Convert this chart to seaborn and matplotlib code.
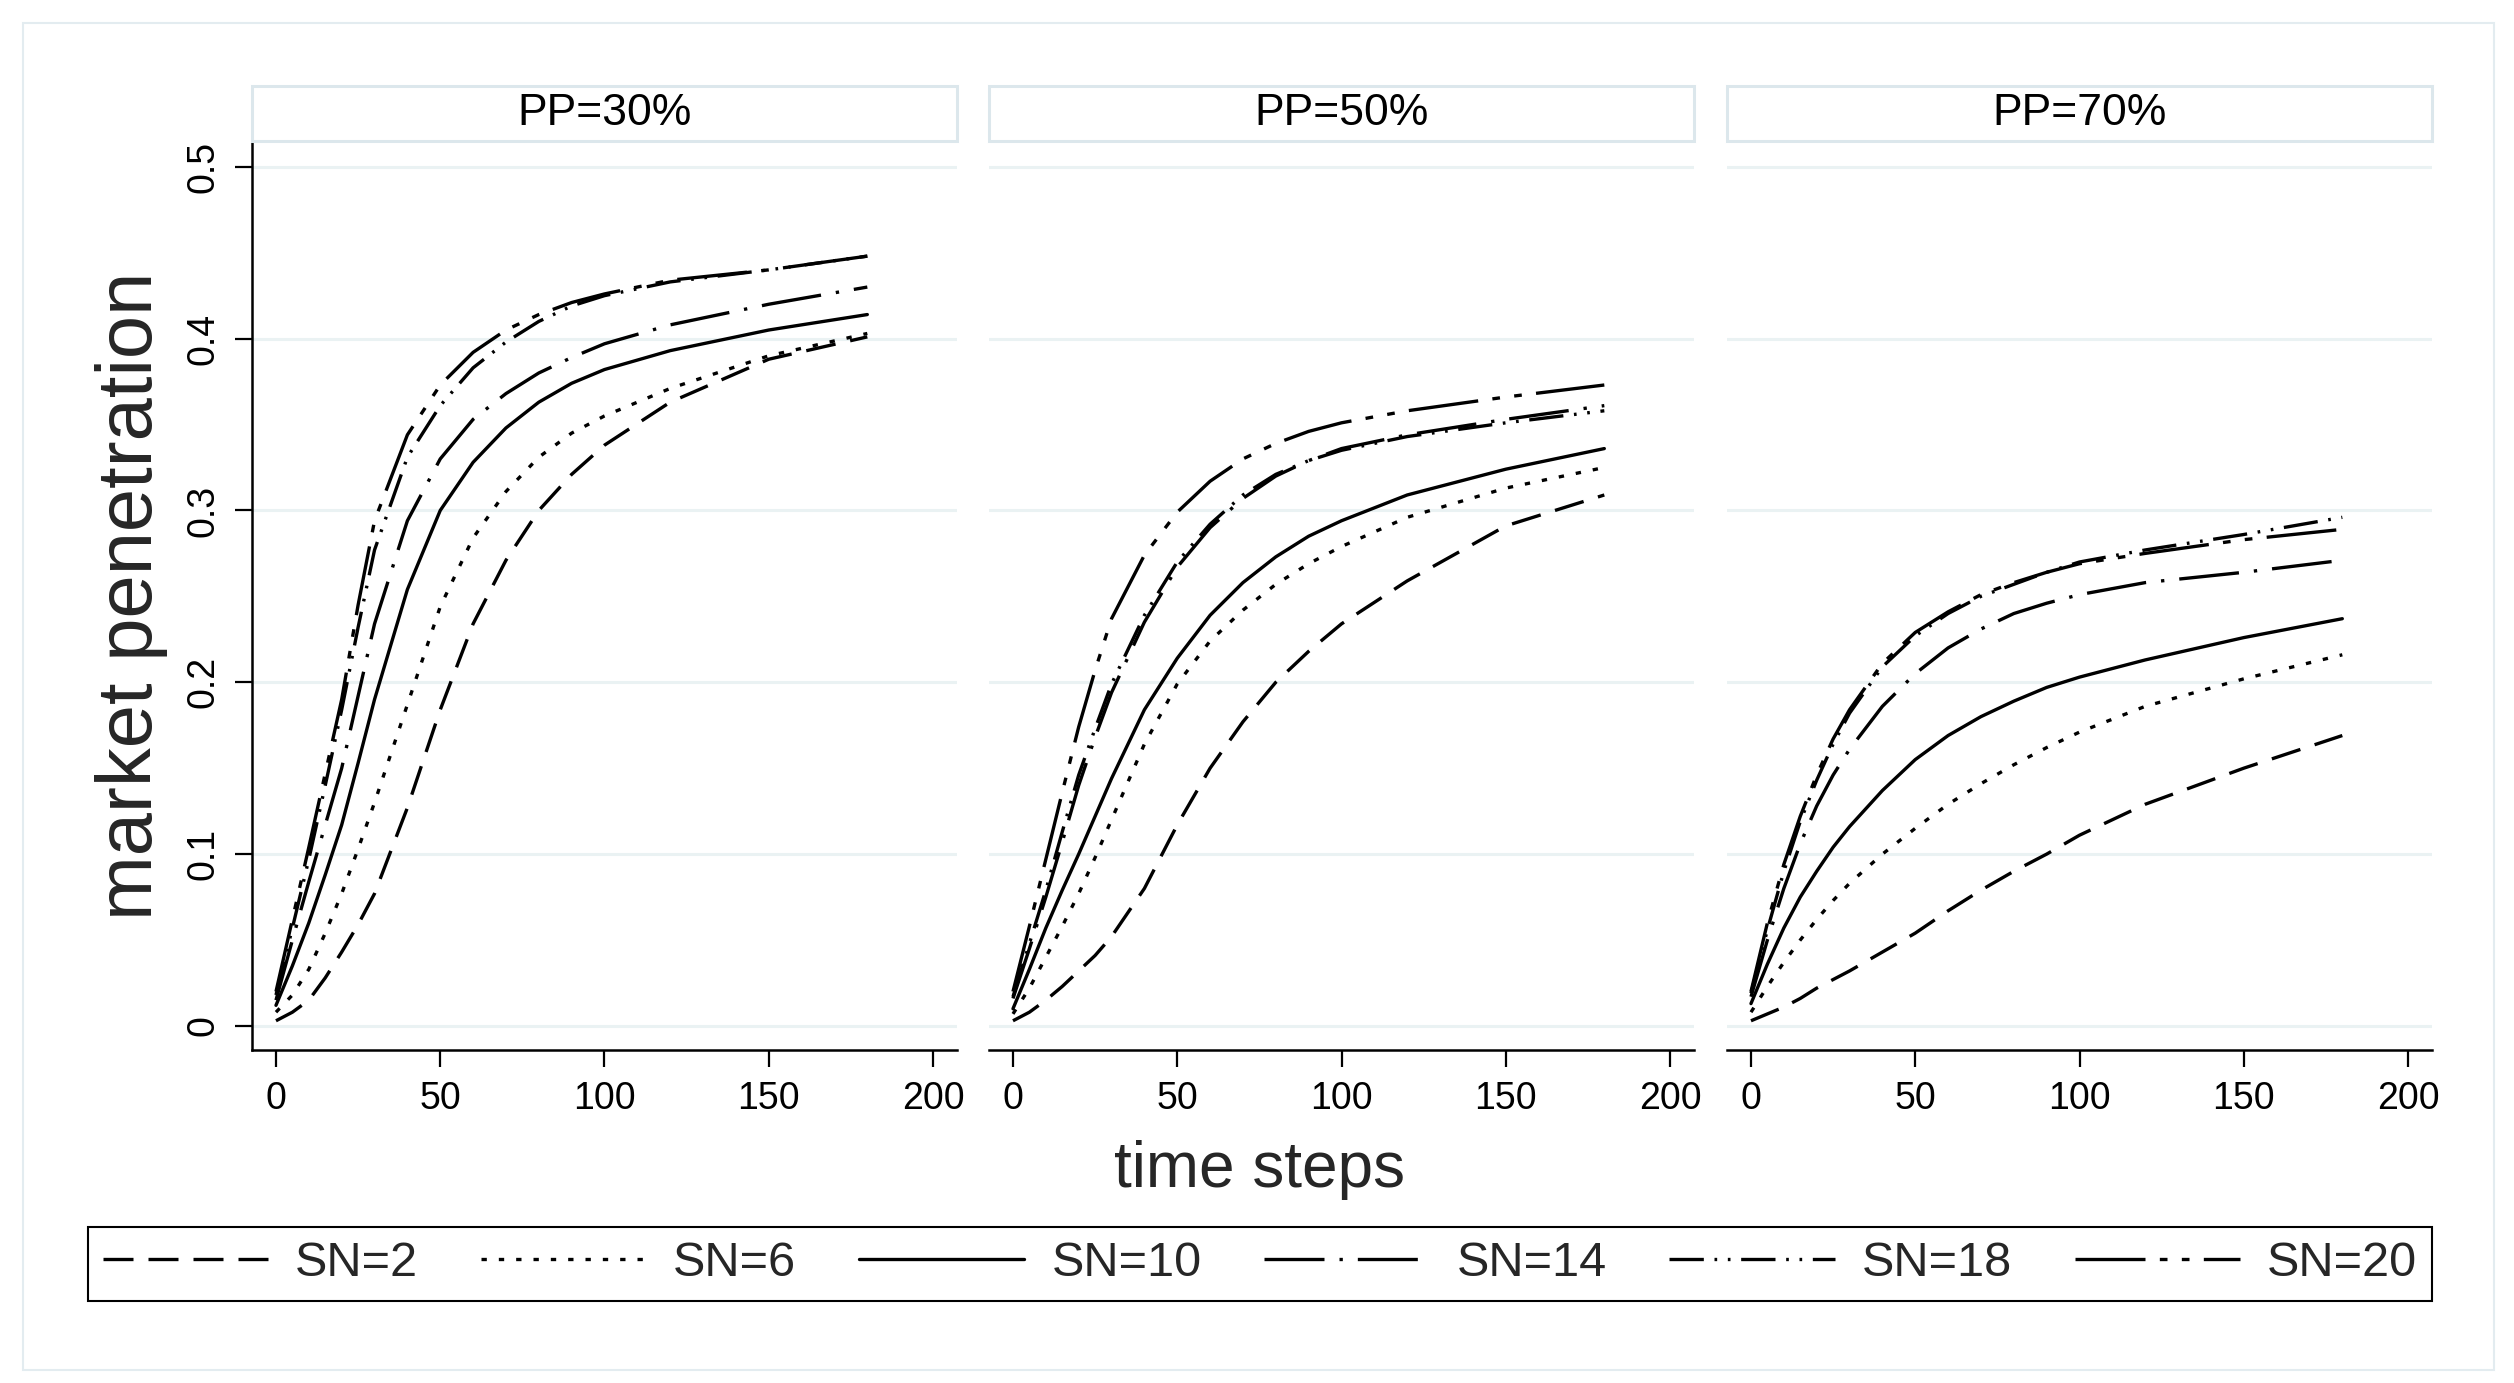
import matplotlib
matplotlib.use("Agg")
from matplotlib import pyplot as plt
from matplotlib import font_manager
from matplotlib.lines import Line2D
from matplotlib.patches import Rectangle
import pandas as pd
import seaborn as sns

# values
time_steps = [0, 5, 10, 15, 20, 25, 30, 40, 50, 60, 70, 80, 90, 100, 120, 150, 180]
panels = ["PP=30%", "PP=50%", "PP=70%"]
series = ["SN=2", "SN=6", "SN=10", "SN=14", "SN=18", "SN=20"]

pp30 = {
    "SN=2":  [0.003, 0.008, 0.015, 0.028, 0.043, 0.059, 0.077, 0.127, 0.184, 0.234, 0.271, 0.300, 0.321, 0.338, 0.363, 0.388, 0.401],
    "SN=6":  [0.008, 0.018, 0.033, 0.054, 0.077, 0.103, 0.130, 0.187, 0.244, 0.284, 0.311, 0.331, 0.345, 0.355, 0.371, 0.390, 0.403],
    "SN=10": [0.012, 0.035, 0.060, 0.088, 0.117, 0.153, 0.190, 0.254, 0.300, 0.328, 0.348, 0.363, 0.374, 0.382, 0.393, 0.405, 0.414],
    "SN=14": [0.015, 0.050, 0.084, 0.117, 0.150, 0.192, 0.234, 0.294, 0.330, 0.353, 0.368, 0.380, 0.389, 0.397, 0.408, 0.420, 0.430],
    "SN=18": [0.018, 0.057, 0.097, 0.140, 0.184, 0.232, 0.277, 0.331, 0.361, 0.383, 0.398, 0.410, 0.419, 0.425, 0.433, 0.440, 0.448],
    "SN=20": [0.020, 0.062, 0.104, 0.147, 0.190, 0.245, 0.294, 0.344, 0.373, 0.392, 0.405, 0.414, 0.421, 0.426, 0.434, 0.440, 0.448],
}
pp50 = {
    "SN=2":  [0.003, 0.008, 0.015, 0.023, 0.032, 0.041, 0.052, 0.080, 0.117, 0.150, 0.177, 0.200, 0.218, 0.234, 0.259, 0.291, 0.309],
    "SN=6":  [0.007, 0.022, 0.040, 0.058, 0.077, 0.098, 0.120, 0.164, 0.199, 0.224, 0.242, 0.257, 0.269, 0.279, 0.296, 0.313, 0.325],
    "SN=10": [0.010, 0.033, 0.057, 0.079, 0.100, 0.122, 0.144, 0.184, 0.214, 0.239, 0.258, 0.273, 0.285, 0.294, 0.309, 0.324, 0.336],
    "SN=14": [0.016, 0.045, 0.075, 0.107, 0.140, 0.168, 0.194, 0.235, 0.267, 0.290, 0.307, 0.320, 0.329, 0.336, 0.344, 0.353, 0.361],
    "SN=18": [0.017, 0.048, 0.079, 0.113, 0.146, 0.173, 0.199, 0.239, 0.270, 0.292, 0.309, 0.321, 0.329, 0.335, 0.343, 0.351, 0.358],
    "SN=20": [0.020, 0.058, 0.097, 0.136, 0.174, 0.207, 0.237, 0.274, 0.299, 0.317, 0.330, 0.339, 0.346, 0.351, 0.358, 0.366, 0.373],
}
pp70 = {
    "SN=2":  [0.003, 0.007, 0.011, 0.016, 0.022, 0.027, 0.032, 0.043, 0.054, 0.067, 0.079, 0.090, 0.100, 0.111, 0.129, 0.150, 0.169],
    "SN=6":  [0.008, 0.023, 0.037, 0.050, 0.062, 0.073, 0.083, 0.100, 0.115, 0.129, 0.141, 0.152, 0.162, 0.171, 0.186, 0.202, 0.216],
    "SN=10": [0.013, 0.036, 0.057, 0.075, 0.090, 0.104, 0.116, 0.137, 0.155, 0.169, 0.180, 0.189, 0.197, 0.203, 0.213, 0.226, 0.237],
    "SN=14": [0.017, 0.050, 0.080, 0.106, 0.128, 0.146, 0.161, 0.186, 0.205, 0.220, 0.231, 0.240, 0.246, 0.251, 0.258, 0.264, 0.271],
    "SN=18": [0.019, 0.056, 0.090, 0.119, 0.143, 0.164, 0.182, 0.209, 0.227, 0.240, 0.250, 0.257, 0.264, 0.270, 0.277, 0.286, 0.296],
    "SN=20": [0.020, 0.060, 0.094, 0.122, 0.146, 0.167, 0.184, 0.211, 0.229, 0.241, 0.251, 0.258, 0.264, 0.269, 0.275, 0.283, 0.289],
}

x_ticks = [0, 50, 100, 150, 200]
y_ticks = [0, 0.1, 0.2, 0.3, 0.4, 0.5]
y_tick_labels = ["0", "0.1", "0.2", "0.3", "0.4", "0.5"]

# long format for seaborn
rows = []
for panel, values in zip(panels, [pp30, pp50, pp70]):
    for sn in series:
        for t, v in zip(time_steps, values[sn]):
            rows.append({"panel": panel, "sn": sn, "time": t, "value": v})
data_set = pd.DataFrame(rows)

sns.set_theme(style="white")
installed = {f.name for f in font_manager.fontManager.ttflist}
narrow = "Liberation Sans Narrow" if "Liberation Sans Narrow" in installed else "Liberation Sans"
plt.rcParams["font.family"] = ["Liberation Sans", "DejaVu Sans"]

# dash patterns in units of line width (Stata mono look)
line_dashes = {
    "SN=2": (9, 4.5),
    "SN=6": (1.6, 3.6),
    "SN=10": "",
    "SN=14": (18, 4.5, 1, 4.5),
    "SN=18": (10.3, 3.2, 0.8, 3.2, 0.8, 3.2),
    "SN=20": (21, 4.3, 2.3, 4.3, 2.3, 4.3),
}
lw = 2.4
grid_color = "#EAF2F3"
box_color = "#DCE7EC"

W, H = 2514, 1383
fig = plt.figure(figsize=(W / 100, H / 100), dpi=100, facecolor="white")

lefts = [252, 989, 1727]
ax_w = 705
ax_top, ax_bottom = 141, 1050

for i, (panel, left) in enumerate(zip(panels, lefts)):
    ax = fig.add_axes([left / W, 1 - ax_bottom / H, ax_w / W, (ax_bottom - ax_top) / H])
    sub = data_set[data_set["panel"] == panel]
    sns.lineplot(data=sub, x="time", y="value", style="sn", style_order=series,
                 dashes=line_dashes, color="black", linewidth=lw,
                 estimator=None, ax=ax, legend=False)
    ax.set_xlim(-7.3, 207.3)
    ax.set_ylim(-0.014, 0.515)
    ax.set_xticks(x_ticks)
    ax.set_yticks(y_ticks)
    ax.set_axisbelow(True)
    ax.yaxis.grid(True, color=grid_color, linewidth=2.2)
    ax.xaxis.grid(False)
    ax.set(xlabel="", ylabel="")
    for side in ["top", "right"]:
        ax.spines[side].set_visible(False)
    for side in ["left", "bottom"]:
        ax.spines[side].set_linewidth(1.8)
        ax.spines[side].set_color("black")
    ax.tick_params(axis="both", direction="out", length=12, width=1.6,
                   labelsize=27, pad=10, color="black", labelcolor="black")
    ax.tick_params(axis="x", bottom=True)
    if i == 0:
        ax.tick_params(axis="y", left=True)
        ax.set_yticklabels(y_tick_labels, rotation=90, va="center")
    else:
        ax.spines["left"].set_visible(False)
        ax.tick_params(axis="y", left=False, labelleft=False)

    # strip header
    fig.patches.append(Rectangle((left / W, 1 - ax_top / H), ax_w / W, 55 / H,
                                 transform=fig.transFigure, facecolor="white",
                                 edgecolor=box_color, linewidth=2.2))
    fig.text((left + ax_w / 2) / W, 1 - 113.5 / H, panel, ha="center", va="center",
             fontsize=32, family=[narrow, "DejaVu Sans"], color="black")

# outer frame
fig.patches.append(Rectangle((23 / W, 1 - 1370 / H), (2494 - 23) / W, (1370 - 23) / H,
                             transform=fig.transFigure, fill=False,
                             edgecolor="#E3ECF0", linewidth=1.5))

fig.text(1260 / W, 1 - 1170 / H, "time steps", ha="center", va="center", fontsize=46)
fig.text(132 / W, 1 - 596 / H, "market penetration", ha="center", va="center",
         rotation=90, fontsize=56)

handles = []
for sn in series:
    if line_dashes[sn] == "":
        handles.append(Line2D([0], [0], color="black", lw=lw, linestyle="-"))
    else:
        handles.append(Line2D([0], [0], color="black", lw=lw, dashes=line_dashes[sn]))

leg = fig.legend(handles, series, ncol=6, loc="center",
                 bbox_to_anchor=(88 / W, 1 - 1307 / H, 2344 / W, 86 / H),
                 mode="expand", frameon=True, fancybox=False, framealpha=1,
                 edgecolor="black", prop={"family": [narrow], "size": 35},
                 handlelength=3.4, handletextpad=0.56, columnspacing=1.3,
                 borderaxespad=0, borderpad=0.3)
leg.get_frame().set_linewidth(1.5)

fig.savefig("out.png", dpi=100, facecolor="white")
